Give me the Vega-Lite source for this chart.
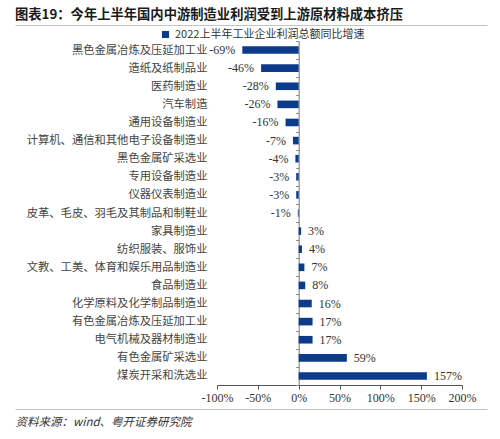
{
  "$schema": "https://vega.github.io/schema/vega-lite/v6.json",
  "description": "图表19 - 2022上半年工业企业利润总额同比增速 (horizontal bars)",
  "autosize": "none",
  "width": 472,
  "height": 384,
  "padding": {"left": 15, "top": 25, "right": 13, "bottom": 30},
  "background": "white",
  "config": {"view": {"stroke": null}},
  "title": {
    "text": "图表19：今年上半年国内中游制造业利润受到上游原材料成本挤压",
    "anchor": "start",
    "frame": "group",
    "font": "Noto Sans CJK SC",
    "fontSize": 13.3,
    "fontWeight": "bold",
    "color": "#1a1a1a",
    "offset": -2
  },
  "data": {
    "values": [
      {"industry": "黑色金属冶炼及压延加工业", "v": -69},
      {"industry": "造纸及纸制品业", "v": -46},
      {"industry": "医药制造业", "v": -28},
      {"industry": "汽车制造", "v": -26},
      {"industry": "通用设备制造业", "v": -16},
      {"industry": "计算机、通信和其他电子设备制造业", "v": -7},
      {"industry": "黑色金属矿采选业", "v": -4},
      {"industry": "专用设备制造业", "v": -3},
      {"industry": "仪器仪表制造业", "v": -3},
      {"industry": "皮革、毛皮、羽毛及其制品和制鞋业", "v": -1},
      {"industry": "家具制造业", "v": 3},
      {"industry": "纺织服装、服饰业", "v": 4},
      {"industry": "文教、工美、体育和娱乐用品制造业", "v": 7},
      {"industry": "食品制造业", "v": 8},
      {"industry": "化学原料及化学制品制造业", "v": 16},
      {"industry": "有色金属冶炼及压延加工业", "v": 17},
      {"industry": "电气机械及器材制造业", "v": 17},
      {"industry": "有色金属矿采选业", "v": 59},
      {"industry": "煤炭开采和洗选业", "v": 157}
    ]
  },
  "transform": [{"calculate": "datum.v + '%'", "as": "label"}],
  "layer": [
    {
      "mark": {"type": "bar", "height": {"band": 0.42}, "color": "#0c3b8c"},
      "encoding": {
        "y": {
          "field": "industry",
          "type": "nominal",
          "sort": null,
          "scale": {"range": [16, 360], "paddingInner": 0, "paddingOuter": 0},
          "axis": {
            "title": null,
            "offset": -283.67,
            "domainColor": "#777",
            "tickColor": "#888",
            "tickSize": 3,
            "tickBand": "extent",
            "labelPadding": 88.7,
            "labelFont": "Noto Sans CJK SC",
            "labelFontSize": 11.3,
            "labelColor": "#444",
            "labelLimit": 300
          }
        },
        "x": {
          "field": "v",
          "type": "quantitative",
          "scale": {"domain": [-100, 200], "range": [202, 447], "nice": false, "zero": false},
          "axis": {
            "orient": "bottom",
            "offset": -24,
            "values": [-100, -50, 0, 50, 100, 150, 200],
            "labelExpr": "datum.value + '%'",
            "labelOverlap": false,
            "labelBound": false,
            "labelFlush": false,
            "title": null,
            "grid": false,
            "domainColor": "#555",
            "tickColor": "#555",
            "tickSize": 4,
            "labelPadding": 3,
            "labelFont": "Liberation Serif",
            "labelFontSize": 12,
            "labelColor": "#333"
          }
        },
        "x2": {"datum": 0},
        "color": {
          "datum": "2022上半年工业企业利润总额同比增速",
          "type": "nominal",
          "scale": {"range": ["#0c3b8c"]},
          "legend": {
            "orient": "none",
            "legendX": 145,
            "legendY": 4,
            "title": null,
            "symbolType": "square",
            "symbolSize": 50,
            "symbolStrokeWidth": 0,
            "labelFont": "Noto Sans CJK SC",
            "labelFontSize": 11,
            "labelColor": "#333",
            "labelLimit": 400
          }
        }
      }
    },
    {
      "transform": [{"filter": "datum.v < 0"}],
      "mark": {"type": "text", "align": "right", "baseline": "middle", "dx": -7, "font": "Liberation Serif", "fontSize": 12, "color": "#333"},
      "encoding": {
        "y": {"field": "industry", "type": "nominal", "sort": null},
        "x": {
          "field": "v",
          "type": "quantitative",
          "scale": {"domain": [-100, 200], "range": [202, 447], "nice": false, "zero": false},
          "axis": null
        },
        "text": {"field": "label"}
      }
    },
    {
      "transform": [{"filter": "datum.v > 0"}],
      "mark": {"type": "text", "align": "left", "baseline": "middle", "dx": 7, "font": "Liberation Serif", "fontSize": 12, "color": "#333"},
      "encoding": {
        "y": {"field": "industry", "type": "nominal", "sort": null},
        "x": {
          "field": "v",
          "type": "quantitative",
          "scale": {"domain": [-100, 200], "range": [202, 447], "nice": false, "zero": false},
          "axis": null
        },
        "text": {"field": "label"}
      }
    },
    {
      "mark": {"type": "rule", "opacity": 0},
      "encoding": {
        "x": {
          "datum": 0,
          "type": "quantitative",
          "scale": {"domain": [0, 1], "range": [0, 472], "nice": false},
          "axis": {
            "orient": "top",
            "domainColor": "#c4c4c4",
            "ticks": false,
            "labels": false,
            "grid": false,
            "title": null
          }
        }
      }
    },
    {
      "mark": {"type": "rule", "opacity": 0},
      "encoding": {
        "x": {
          "datum": 0,
          "type": "quantitative",
          "scale": {"domain": [0, 1], "range": [0, 472], "nice": false},
          "axis": {
            "orient": "bottom",
            "domainColor": "#c4c4c4",
            "ticks": false,
            "labels": false,
            "grid": false,
            "title": "资料来源：wind、粤开证券研究院",
            "titleAnchor": "start",
            "titleAlign": "left",
            "titlePadding": 7,
            "titleFont": "Noto Sans CJK SC",
            "titleFontSize": 11.5,
            "titleFontStyle": "italic",
            "titleFontWeight": "normal",
            "titleColor": "#333"
          }
        }
      }
    }
  ],
  "resolve": {"scale": {"x": "independent"}, "axis": {"x": "independent"}}
}
